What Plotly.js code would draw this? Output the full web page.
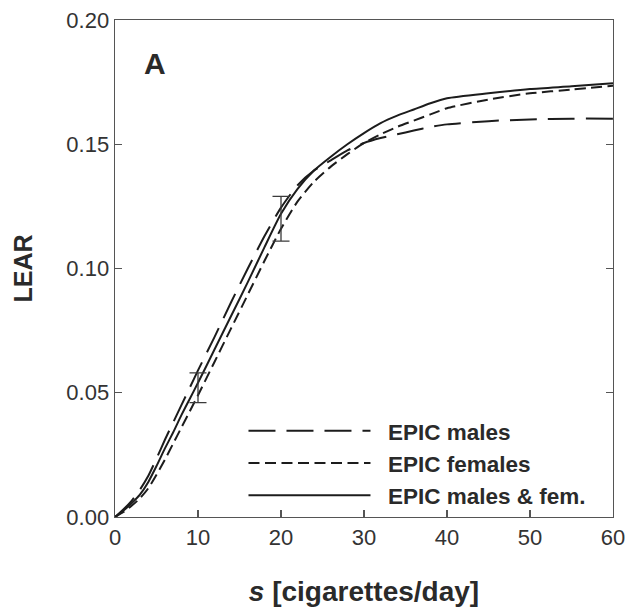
<!DOCTYPE html>
<html>
<head>
<meta charset="utf-8">
<script src="https://cdn.plot.ly/plotly-3.0.1.min.js"></script>
<style>html,body{margin:0;padding:0;background:#fff;}#chart{width:626px;height:607px;}</style>
</head>
<body>
<div id="chart"></div>
<script>
// cigarettes per day
const s = [0,1,2,3,4,5,6,7,8,9,10,12,14,16,18,20,22,24,26,28,30,32,34,36,38,40,45,50,55,60];
// EPIC males (long dash)
const males = [0,0.003,0.0065,0.011,0.0165,0.0235,0.031,0.038,0.045,0.052,0.059,0.0725,0.0865,0.1,0.113,0.1245,0.1335,0.1395,0.1435,0.1475,0.1505,0.1525,0.154,0.1555,0.157,0.158,0.1593,0.16,0.1603,0.1603];
// EPIC females (short dash)
const females = [0,0.002,0.0045,0.0075,0.0115,0.017,0.023,0.0295,0.036,0.0425,0.049,0.0625,0.076,0.0895,0.103,0.116,0.127,0.135,0.141,0.146,0.1505,0.154,0.157,0.1595,0.162,0.1645,0.168,0.1705,0.172,0.1735];
// EPIC males & females (solid)
const combined = [0,0.0025,0.0055,0.009,0.014,0.0205,0.0275,0.034,0.041,0.0475,0.054,0.0675,0.081,0.0945,0.1085,0.122,0.132,0.1395,0.145,0.15,0.1545,0.1585,0.1615,0.164,0.1665,0.1685,0.1705,0.1722,0.1733,0.1745];
// error bars
const errS = [10,20];
const errMid = [0.052,0.120];
const errHalf = [0.006,0.009];

const names = ["EPIC males","EPIC females","EPIC males & fem."];
const lineCol = "#1c1c1c";

const traces = [
  {x:s, y:males, mode:"lines", name:"\u00a0\u00a0"+names[0], line:{color:lineCol, width:2, dash:"27px,11px", shape:"spline", smoothing:0.6}},
  {x:s, y:females, mode:"lines", name:"\u00a0\u00a0"+names[1], line:{color:lineCol, width:2, dash:"11px,5.5px", shape:"spline", smoothing:0.6}},
  {x:s, y:combined, mode:"lines", name:"\u00a0\u00a0"+names[2], line:{color:lineCol, width:2, shape:"spline", smoothing:0.6}},
  {x:errS, y:errMid, mode:"markers", marker:{size:0.1, color:"rgba(0,0,0,0)"}, showlegend:false, hoverinfo:"skip",
   error_y:{type:"data", array:errHalf, visible:true, color:"#3a3a3a", thickness:1.3, width:8.5}}
];

const layout = {
  width:626, height:607,
  margin:{l:115, r:13, t:20, b:90},
  paper_bgcolor:"#fff", plot_bgcolor:"#fff",
  font:{family:"Liberation Sans, Arial, sans-serif", color:"#2a2a2a"},
  showlegend:true,
  legend:{x:0.258, y:0.216, xanchor:"left", yanchor:"top", bgcolor:"rgba(0,0,0,0)",
          itemwidth:122, font:{size:22.5, color:"#2a2a2a", family:"Liberation Sans, Arial, sans-serif", weight:"bold"}, tracegroupgap:0},
  xaxis:{range:[0,60], tickvals:[0,10,20,30,40,50,60], ticks:"inside", ticklen:7, tickwidth:1.3, tickcolor:"#555",
         showline:true, linecolor:"#555", linewidth:1.4, mirror:true, showgrid:false, zeroline:false,
         tickfont:{size:22, color:"#333"},
         title:{text:"<i>s</i> [cigarettes/day]", font:{size:28, weight:"bold", color:"#2a2a2a"}, standoff:32}},
  yaxis:{range:[0,0.2], tickvals:[0,0.05,0.1,0.15,0.2], tickformat:".2f", ticks:"inside", ticklen:7, tickwidth:1.3, tickcolor:"#555",
         showline:true, linecolor:"#555", linewidth:1.4, mirror:"ticks", showgrid:false, zeroline:false,
         tickfont:{size:22, color:"#333"},
         title:{text:"LEAR", font:{size:25, weight:"bold", color:"#2a2a2a"}, standoff:26}},
  annotations:[{text:"<b>A</b>", xref:"paper", yref:"paper", x:0.081, y:0.913, xanchor:"center", yanchor:"middle", showarrow:false, font:{size:30, color:"#2a2a2a"}}]
};

Plotly.newPlot("chart", traces, layout, {staticPlot:true, displayModeBar:false});
</script>
</body>
</html>
